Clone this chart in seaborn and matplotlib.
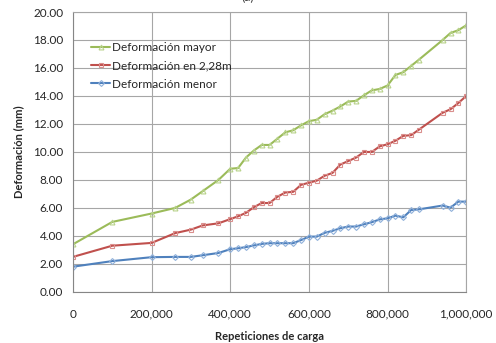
import matplotlib
matplotlib.use('Agg')
import matplotlib.pyplot as plt
import matplotlib.ticker as mticker
import pandas as pd
import seaborn as sns

# Datos.
repeticiones = [0, 100000, 200000, 260000, 300000, 330000, 370000, 400000, 420000, 440000,
                460000, 480000, 500000, 520000, 540000, 560000, 580000, 600000, 620000, 640000,
                660000, 680000, 700000, 720000, 740000, 760000, 780000, 800000, 820000, 840000,
                860000, 880000, 940000, 960000, 980000, 1000000]
def_mayor = [3.4, 5.0, 5.6, 6.0, 6.6, 7.2, 8.0, 8.8, 8.85, 9.6,
             10.1, 10.5, 10.5, 10.95, 11.4, 11.55, 11.9, 12.2, 12.3, 12.7,
             12.95, 13.25, 13.6, 13.65, 14.05, 14.4, 14.5, 14.75, 15.5, 15.7,
             16.15, 16.6, 18.0, 18.5, 18.7, 19.05]
def_228 = [2.5, 3.3, 3.5, 4.2, 4.45, 4.75, 4.9, 5.2, 5.4, 5.65,
           6.05, 6.35, 6.35, 6.8, 7.1, 7.15, 7.65, 7.8, 7.95, 8.3,
           8.5, 9.1, 9.35, 9.6, 10.0, 10.0, 10.4, 10.55, 10.8, 11.15,
           11.2, 11.6, 12.8, 13.05, 13.5, 14.0]
def_menor = [1.8, 2.2, 2.48, 2.5, 2.5, 2.62, 2.78, 3.05, 3.12, 3.2,
             3.32, 3.43, 3.48, 3.48, 3.48, 3.48, 3.7, 3.95, 3.95, 4.22,
             4.36, 4.55, 4.67, 4.67, 4.83, 4.98, 5.18, 5.26, 5.45, 5.33,
             5.85, 5.9, 6.17, 6.02, 6.45, 6.45]

series = [
    ('Deformación mayor', def_mayor, '#9BBB59', '#B9D38C', '^'),
    ('Deformación en 2,28m', def_228, '#C0504D', '#DA8F8D', 's'),
    ('Deformación menor', def_menor, '#4F81BD', '#8FB0DA', 'D'),
]

sns.set_style('white')
plt.rcParams['font.family'] = ['Lato', 'DejaVu Sans']

fig = plt.figure(figsize=(4.96, 3.43), dpi=100)
ax = fig.add_axes([0.147, 0.149, 0.793, 0.816])

for nombre, valores, color, claro, marca in series:
    df = pd.DataFrame({'x': repeticiones, 'y': valores})
    sns.lineplot(data=df, x='x', y='y', ax=ax, color=color, linewidth=1.5,
                 marker=marca, markersize=3.5 if marca != 'D' else 3,
                 markerfacecolor='none', markeredgecolor=claro,
                 markeredgewidth=0.8, label=nombre)

ax.set_xlim(0, 1000000)
ax.set_ylim(0, 20)
ax.set_xticks(range(0, 1000001, 200000))
ax.set_yticks(range(0, 21, 2))
ax.xaxis.set_major_formatter(mticker.FuncFormatter(lambda v, p: f'{int(v):,}'))
ax.yaxis.set_major_formatter(mticker.FormatStrFormatter('%.2f'))
ax.grid(True, color='#A6A6A6', linewidth=0.8)
ax.set_axisbelow(True)
for s in ax.spines.values():
    s.set_color('#A6A6A6')
    s.set_linewidth(0.8)
ax.spines['left'].set_color('#868686')
ax.spines['bottom'].set_color('#868686')
ax.tick_params(axis='both', direction='out', length=4, width=0.8, color='#868686',
               labelsize=8.5, pad=3)
ax.tick_params(axis='x', pad=8)
ax.set_xlabel('Repeticiones de carga', fontsize=8, fontweight='bold', labelpad=8)
ax.set_ylabel('Deformación (mm)', fontsize=8, fontweight='bold', labelpad=6)

leg = ax.legend(loc='upper left', bbox_to_anchor=(0.035, 0.91), frameon=False,
                fontsize=8.5, handlelength=1.6, handletextpad=0.15,
                labelspacing=0.62, borderaxespad=0)

# titulo recortado en el borde superior, como en el original
fig.text(0.5, 0.992, '(a)', ha='center', va='bottom', fontsize=9, color='#404040')

fig.savefig('out.png', dpi=100)
